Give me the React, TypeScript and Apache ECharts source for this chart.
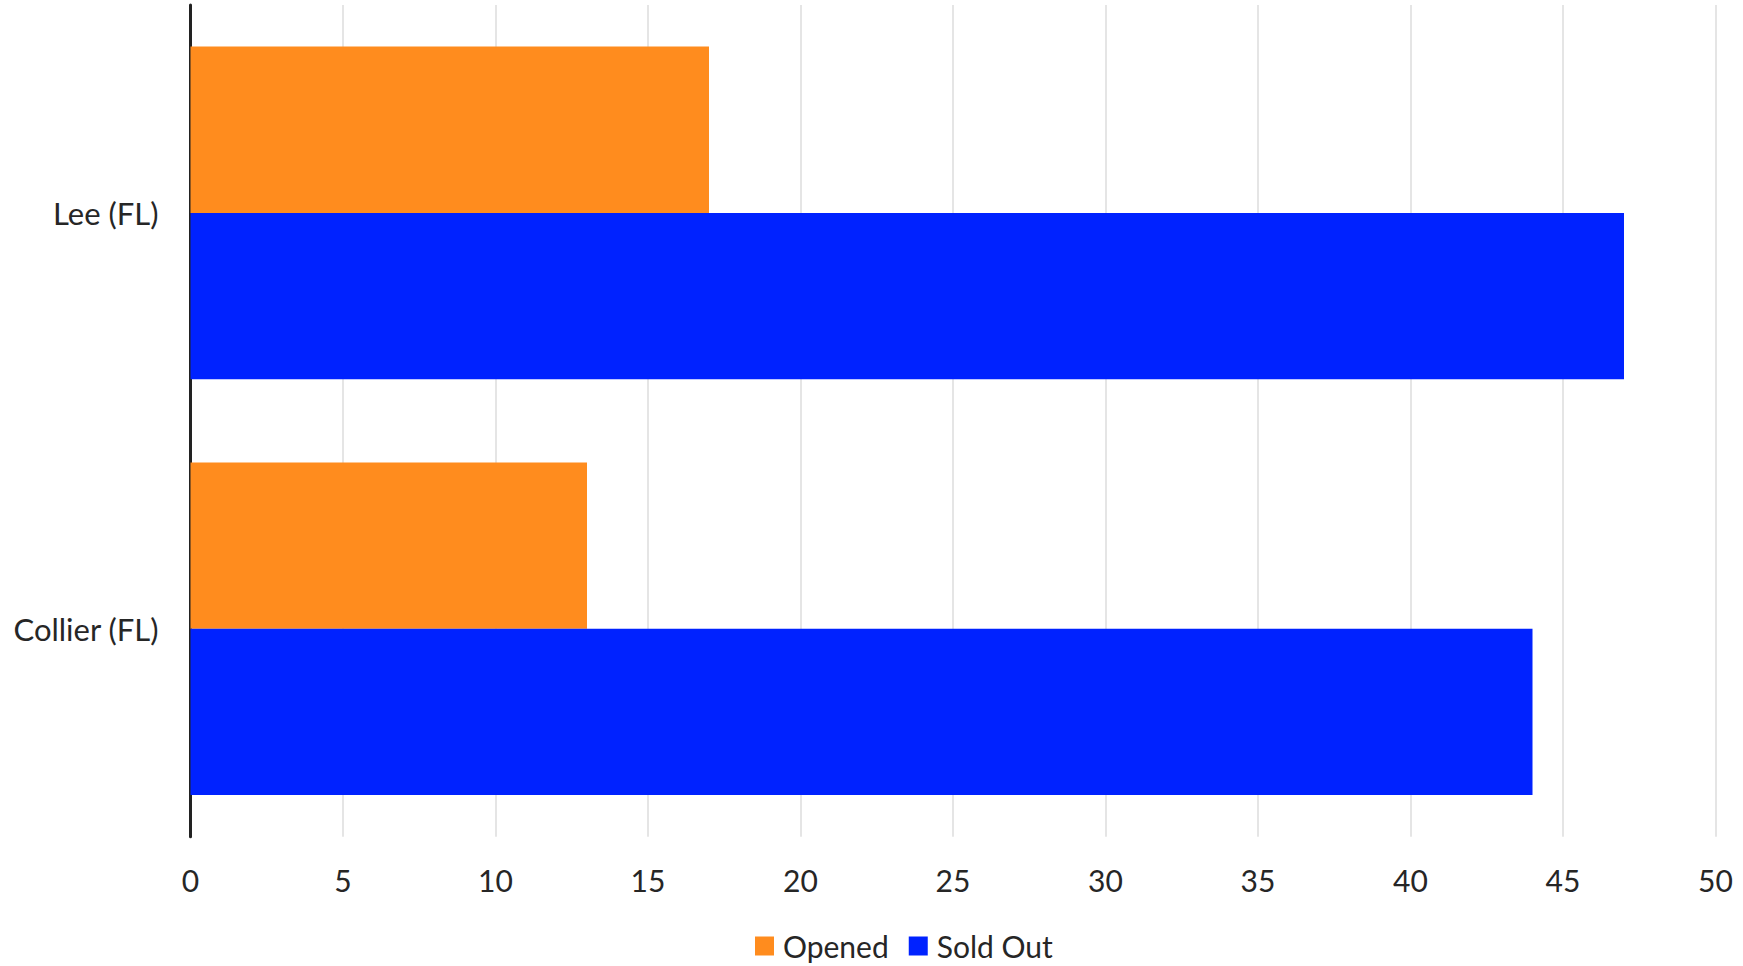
import React, { useEffect, useRef } from "react";
import * as echarts from "echarts";

const categories = ["Lee (FL)", "Collier (FL)"];
const openedValues = [17, 13];
const soldOutValues = [47, 44];
const seriesNames = ["Opened", "Sold Out"];

export default function App() {
  const ref = useRef<HTMLDivElement>(null);
  useEffect(() => {
    if (!ref.current) return;
    const chart = echarts.init(ref.current, null, { renderer: "svg" });
    const font = "Lato, 'Open Sans', sans-serif";
    chart.setOption({
      animation: false,
      backgroundColor: "#ffffff",
      grid: { left: 190.5, right: 27.5, top: 5, bottom: 129.3, containLabel: false },
      legend: {
        data: seriesNames,
        left: 755,
        top: 929,
        padding: 0,
        itemWidth: 19,
        itemHeight: 19,
        itemGap: 20,
        icon: "rect",
        textStyle: {
          fontFamily: font,
          fontSize: 30,
          lineHeight: 34,
          color: "#262626",
          padding: [0, 0, 0, 4],
        },
      },
      xAxis: {
        type: "value",
        min: 0,
        max: 50,
        interval: 5,
        axisLine: { show: false },
        axisTick: { show: false },
        splitLine: { show: true, lineStyle: { color: "#dddddd", width: 1.5 } },
        axisLabel: { fontFamily: font, fontSize: 30, color: "#262626", margin: 28 },
      },
      yAxis: {
        type: "category",
        data: categories,
        inverse: true,
        axisLine: { show: true, lineStyle: { color: "#222222", width: 3 } },
        axisTick: { show: false },
        axisLabel: { fontFamily: font, fontSize: 31, color: "#262626", margin: 32 },
      },
      series: [
        {
          name: seriesNames[0],
          type: "bar",
          data: openedValues,
          itemStyle: { color: "#FF8C1E" },
          barGap: "0%",
          barCategoryGap: "20%",
        },
        {
          name: seriesNames[1],
          type: "bar",
          data: soldOutValues,
          itemStyle: { color: "#0022FF" },
          barGap: "0%",
          barCategoryGap: "20%",
        },
      ],
    });
    return () => chart.dispose();
  }, []);
  return (
    <div
      ref={ref}
      style={{ position: "fixed", left: 0, top: 0, width: 1743, height: 966 }}
    />
  );
}
